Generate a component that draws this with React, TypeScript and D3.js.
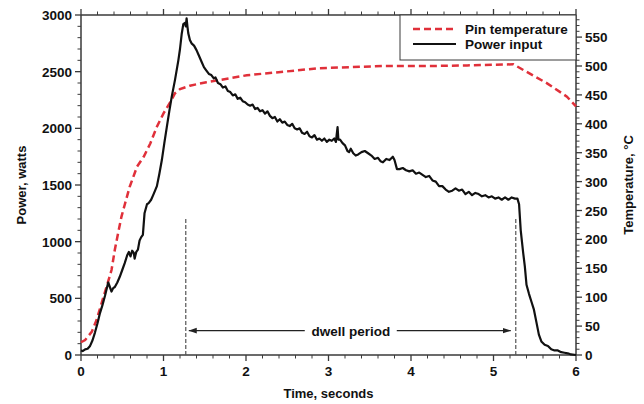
import React from "react";
import * as d3 from "d3";

// ---- Data ----
const powerTime: number[] = [0,0.02,0.05,0.08,0.11,0.14,0.17,0.2,0.23,0.26,0.29,0.31,0.33,0.35,0.37,0.39,0.41,0.44,0.47,0.5,0.53,0.56,0.58,0.6,0.62,0.64,0.65,0.67,0.69,0.71,0.73,0.75,0.77,0.8,0.82,0.85,0.88,0.92,0.95,0.98,1.01,1.04,1.07,1.1,1.14,1.18,1.2,1.22,1.24,1.26,1.27,1.28,1.29,1.3,1.32,1.34,1.37,1.4,1.43,1.46,1.49,1.52,1.55,1.58,1.61,1.63,1.66,1.69,1.72,1.75,1.78,1.81,1.84,1.87,1.9,1.93,1.96,1.99,2.02,2.05,2.08,2.11,2.14,2.17,2.2,2.23,2.26,2.29,2.32,2.35,2.38,2.41,2.44,2.47,2.5,2.53,2.56,2.59,2.62,2.65,2.68,2.71,2.74,2.77,2.8,2.83,2.86,2.89,2.92,2.95,2.98,3.01,3.04,3.07,3.09,3.1,3.11,3.12,3.14,3.17,3.2,3.23,3.25,3.27,3.3,3.33,3.36,3.4,3.44,3.48,3.52,3.56,3.6,3.63,3.66,3.7,3.74,3.78,3.8,3.83,3.86,3.9,3.94,3.98,4.02,4.06,4.1,4.14,4.18,4.22,4.26,4.3,4.34,4.38,4.42,4.46,4.5,4.54,4.58,4.62,4.66,4.7,4.74,4.78,4.82,4.86,4.9,4.94,4.98,5.02,5.06,5.1,5.14,5.18,5.22,5.26,5.29,5.31,5.33,5.36,5.38,5.4,5.43,5.46,5.49,5.52,5.55,5.58,5.62,5.66,5.7,5.74,5.78,5.82,5.86,5.9,5.94,6.0];
const powerWatts: number[] = [40,35,50,55,80,130,200,280,370,440,520,580,640,600,560,590,600,640,690,750,810,880,910,870,920,900,850,910,930,1010,1040,1060,1250,1330,1340,1370,1420,1490,1600,1720,1870,2010,2150,2280,2430,2600,2700,2830,2920,2930,2900,2970,2900,2840,2780,2750,2730,2690,2640,2590,2540,2510,2480,2470,2440,2450,2400,2390,2360,2370,2330,2320,2290,2300,2260,2270,2240,2230,2210,2200,2210,2170,2180,2150,2160,2130,2150,2110,2090,2100,2060,2080,2050,2060,2030,2020,2040,2000,1990,2000,1960,1950,1970,1930,1920,1940,1900,1910,1890,1910,1880,1900,1890,1910,1880,1950,2010,1900,1900,1870,1850,1800,1790,1820,1780,1760,1770,1790,1800,1780,1760,1730,1740,1710,1700,1730,1720,1750,1720,1640,1640,1650,1630,1620,1630,1600,1610,1590,1570,1580,1540,1530,1490,1490,1460,1440,1450,1470,1450,1460,1420,1440,1410,1430,1420,1400,1410,1390,1400,1380,1390,1370,1390,1370,1390,1380,1380,1330,1100,900,780,620,540,470,400,290,180,120,90,80,50,40,40,25,20,15,5,0];

const tempTime: number[] = [0,0.05,0.13,0.19,0.25,0.31,0.37,0.41,0.45,0.49,0.53,0.59,0.68,0.76,0.84,0.92,1.0,1.08,1.14,1.2,1.32,1.52,1.69,2.01,2.45,2.86,3.66,4.27,4.68,5.24,5.4,5.65,5.89,6.0];
const tempC: number[] = [22,26,40,61,90,118,147,182,211,239,260,291,326,343,366,395,418,437,453,460,466,472,476,484,490,496,500,500,501,503,490,470,447,430];

const xTicks: number[] = [0, 1, 2, 3, 4, 5, 6];
const powerTicks: number[] = [0, 500, 1000, 1500, 2000, 2500, 3000];
const tempTicks: number[] = [0, 50, 100, 150, 200, 250, 300, 350, 400, 450, 500, 550];

const dwellStart = 1.27;
const dwellEnd = 5.27;
const dwellTop = 1200;
const arrowLevel = 215;

const legendLabels: string[] = ["Pin temperature", "Power input"];

// ---- Layout ----
const W = 644, H = 404;
const L = 81, R = 576, T = 15, B = 355;
const FONT = "'Liberation Sans', Arial, Helvetica, sans-serif";
const AXIS = "#3a3a3a";
const RED = "#e0303a";

export default function App() {
  const x = d3.scaleLinear().domain([0, 6]).range([L, R]);
  const yP = d3.scaleLinear().domain([0, 3000]).range([B, T]);
  const yT = d3.scaleLinear().domain([0, 500 * 340 / 289]).range([B, T]);

  const powerData = powerTime.map((t, i) => [t, powerWatts[i]] as [number, number]);
  const tempData = tempTime.map((t, i) => [t, tempC[i]] as [number, number]);

  const powerLine = d3.line<[number, number]>().x(d => x(d[0])).y(d => yP(d[1]));
  const tempLine = d3.line<[number, number]>().x(d => x(d[0])).y(d => yT(d[1]));

  const xMinor = d3.range(0, 6.0001, 0.2).filter(v => Math.abs(v - Math.round(v)) > 1e-6);
  const pMinor = d3.range(0, 3001, 100).filter(v => v % 500 !== 0);
  const tMinor = d3.range(0, yT.domain()[1], 10).filter(v => v % 50 !== 0);

  const tickStyle = { fontFamily: FONT, fontWeight: 700, fontSize: 13.5, fill: "#111" } as const;

  const arrowY = yP(arrowLevel);
  const textX = (x(dwellStart) + x(dwellEnd)) / 2;

  return (
    <div style={{ position: "absolute", left: 0, top: 0 }}>
      <svg width={W} height={H} style={{ display: "block", background: "#fff" }}>
        <defs>
          <marker id="ah" viewBox="0 0 10 10" refX="10" refY="5" markerWidth="8" markerHeight="8" orient="auto-start-reverse" markerUnits="userSpaceOnUse">
            <path d="M0,1.5 L10,5 L0,8.5 Z" fill="#222" />
          </marker>
        </defs>

        {/* axes frame */}
        <line x1={L} x2={R} y1={B} y2={B} stroke={AXIS} strokeWidth={1.5} />
        <line x1={L} x2={R} y1={T} y2={T} stroke={AXIS} strokeWidth={1.5} />
        <line x1={L} x2={L} y1={T} y2={B} stroke={AXIS} strokeWidth={1.5} />
        <line x1={R} x2={R} y1={T} y2={B} stroke={AXIS} strokeWidth={1.5} />

        {/* bottom & top ticks */}
        {xTicks.map(v => (
          <g key={"xt" + v}>
            <line x1={x(v)} x2={x(v)} y1={B} y2={B + 6} stroke={AXIS} strokeWidth={1.3} />
            <line x1={x(v)} x2={x(v)} y1={T} y2={T - 6} stroke={AXIS} strokeWidth={1.3} />
            <text x={x(v)} y={B + 21} textAnchor="middle" style={tickStyle}>{v}</text>
          </g>
        ))}
        {xMinor.map(v => (
          <g key={"xm" + v}>
            <line x1={x(v)} x2={x(v)} y1={B} y2={B + 3.5} stroke={AXIS} strokeWidth={1} />
            <line x1={x(v)} x2={x(v)} y1={T} y2={T - 3.5} stroke={AXIS} strokeWidth={1} />
          </g>
        ))}

        {/* left ticks */}
        {powerTicks.map(v => (
          <g key={"pt" + v}>
            <line x1={L - 6} x2={L} y1={yP(v)} y2={yP(v)} stroke={AXIS} strokeWidth={1.3} />
            <text x={L - 9} y={yP(v) + 5} textAnchor="end" style={tickStyle}>{v}</text>
          </g>
        ))}
        {pMinor.map(v => (
          <line key={"pm" + v} x1={L - 3.5} x2={L} y1={yP(v)} y2={yP(v)} stroke={AXIS} strokeWidth={1} />
        ))}

        {/* right ticks */}
        {tempTicks.map(v => (
          <g key={"tt" + v}>
            <line x1={R} x2={R + 6} y1={yT(v)} y2={yT(v)} stroke={AXIS} strokeWidth={1.3} />
            <text x={R + 9} y={yT(v) + 5} textAnchor="start" style={tickStyle}>{v}</text>
          </g>
        ))}
        {tMinor.map(v => (
          <line key={"tm" + v} x1={R} x2={R + 3.5} y1={yT(v)} y2={yT(v)} stroke={AXIS} strokeWidth={1} />
        ))}

        {/* axis titles */}
        <text x={(L + R) / 2} y={398} textAnchor="middle" style={{ ...tickStyle, fontSize: 13 }}>Time, seconds</text>
        <text transform={`translate(26,${(T + B) / 2}) rotate(-90)`} textAnchor="middle" style={{ ...tickStyle, fontSize: 13 }}>Power, watts</text>
        <text transform={`translate(633,${(T + B) / 2}) rotate(-90)`} textAnchor="middle" style={{ ...tickStyle, fontSize: 13 }}>Temperature, °C</text>

        {/* dwell period annotation */}
        <line x1={x(dwellStart)} x2={x(dwellStart)} y1={yP(dwellTop)} y2={B} stroke="#555" strokeWidth={1.2} strokeDasharray="4,2" />
        <line x1={x(dwellEnd)} x2={x(dwellEnd)} y1={yP(dwellTop)} y2={B} stroke="#555" strokeWidth={1.2} strokeDasharray="4,2" />
        <line x1={textX - 46} x2={x(dwellStart) + 3} y1={arrowY} y2={arrowY} stroke="#222" strokeWidth={1.3} markerEnd="url(#ah)" />
        <line x1={textX + 46} x2={x(dwellEnd) - 5} y1={arrowY} y2={arrowY} stroke="#222" strokeWidth={1.3} markerEnd="url(#ah)" />
        <text x={textX} y={arrowY + 5} textAnchor="middle" style={tickStyle}>dwell period</text>

        {/* data lines */}
        <path d={tempLine(tempData) || ""} fill="none" stroke={RED} strokeWidth={2.5} strokeDasharray="7,4" />
        <path d={powerLine(powerData) || ""} fill="none" stroke="#111" strokeWidth={2.2} strokeLinejoin="round" />

        {/* legend */}
        <rect x={400} y={T} width={R - 400} height={45} fill="#fff" stroke={AXIS} strokeWidth={1} />
        <line x1={413} x2={456} y1={29} y2={29} stroke={RED} strokeWidth={2.5} strokeDasharray="7,4" />
        <line x1={413} x2={456} y1={44} y2={44} stroke="#111" strokeWidth={2.2} />
        <text x={465} y={33.5} style={tickStyle}>{legendLabels[0]}</text>
        <text x={465} y={48.5} style={tickStyle}>{legendLabels[1]}</text>
      </svg>
    </div>
  );
}
